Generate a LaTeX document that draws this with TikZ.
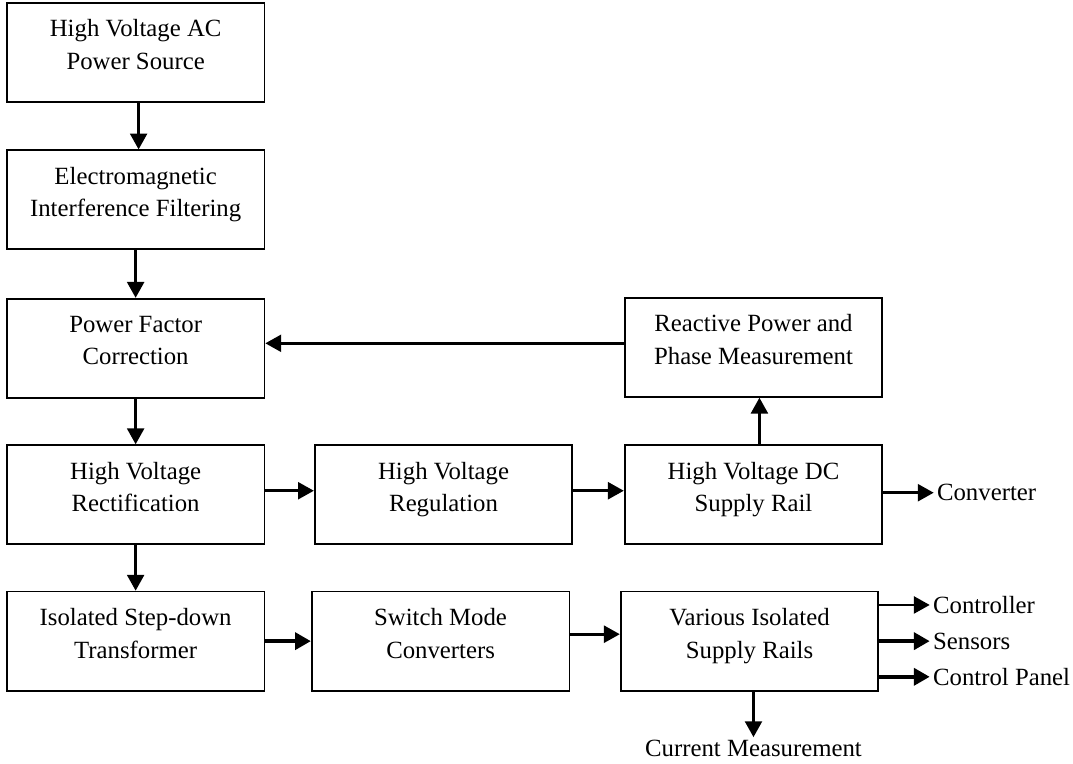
\documentclass[tikz,border=0pt]{standalone}
\usepackage{fontspec}
\setmainfont{Liberation Serif}
\usepackage{tikz}
\usetikzlibrary{arrows.meta,positioning,calc}

\begin{document}
\begin{tikzpicture}[
  font=\fontsize{12.5}{16.5}\selectfont,
  node distance=23.5pt and 24.5pt,
  box/.style={draw,line width=0.9pt,minimum width=130pt,minimum height=50pt,align=center,text depth=8pt},
  lbl/.style={inner sep=1.5pt},
  arrow/.style={-{Triangle[length=8pt,width=8.5pt]},line width=1.4pt},
  heavy/.style={arrow,line width=2.1pt}
]
  \node[box] (src) {High Voltage AC\\Power Source};
  \node[box, below=of src] (emi) {Electromagnetic\\Interference Filtering};
  \node[box, below=24pt of emi] (pfc) {Power Factor\\Correction};
  \node[box, below=23pt of pfc] (rect) {High Voltage\\Rectification};
  \node[box, below=23pt of rect] (xfmr) {Isolated Step-down\\Transformer};

  \node[box, right=24.5pt of rect] (reg) {High Voltage\\Regulation};
  \node[box, right=25.5pt of reg] (hvdc) {High Voltage DC\\Supply Rail};
  \node[box, above=23.5pt of hvdc] (react) {Reactive Power and\\Phase Measurement};

  \node[box, right=23pt of xfmr] (smps) {Switch Mode\\Converters};
  \node[box, right=25pt of smps] (rails) {Various Isolated\\Supply Rails};

  % outputs
  \node[lbl, anchor=west] (conv) at ([shift={(25.5pt,1pt)}]hvdc.east) {Converter};
  \node[lbl, anchor=west] (ctl) at ([shift={(25.5pt,18.25pt)}]rails.east) {Controller};
  \node[lbl, anchor=west] (sens) at ([xshift=25.5pt]rails.east) {Sensors};
  \node[lbl, anchor=west] (panel) at ([shift={(25.5pt,-18pt)}]rails.east) {Control Panel};
  \node[lbl, below=23pt of rails, xshift=2pt] (cur) {Current Measurement};

  \useasboundingbox ([shift={(-3pt,1pt)}]src.north west) rectangle ++(536.5pt,-385.5pt);

  \draw[arrow] ([xshift=1.5pt]src.south) -- ([xshift=1.5pt]emi.north);
  \draw[arrow] (emi) -- (pfc);
  \draw[arrow] (pfc) -- (rect);
  \draw[arrow] (rect) -- (xfmr);
  \draw[arrow] ([yshift=2pt]rect.east) -- ([yshift=2pt]rect.east -| reg.west);
  \draw[arrow] ([yshift=2pt]reg.east) -- ([yshift=2pt]reg.east -| hvdc.west);
  \draw[arrow] ([xshift=3pt]hvdc.north) -- ([xshift=3pt]react.south);
  \draw[arrow] ([yshift=2pt]react.west) -- ([yshift=2pt]react.west -| pfc.east);
  \draw[arrow] (hvdc.east |- conv) -- (conv);
  \draw[heavy] (xfmr) -- (xfmr -| smps.west);
  \draw[arrow] ([yshift=3.5pt]smps.east) -- ([yshift=3.5pt]smps.east -| rails.west);
  \draw[arrow] (rails.east |- ctl) -- (ctl);
  \draw[heavy] (rails.east |- sens) -- (sens);
  \draw[heavy] (rails.east |- panel) -- (panel);
  \draw[arrow] (rails.south -| cur.north) -- (cur);
\end{tikzpicture}
\end{document}
